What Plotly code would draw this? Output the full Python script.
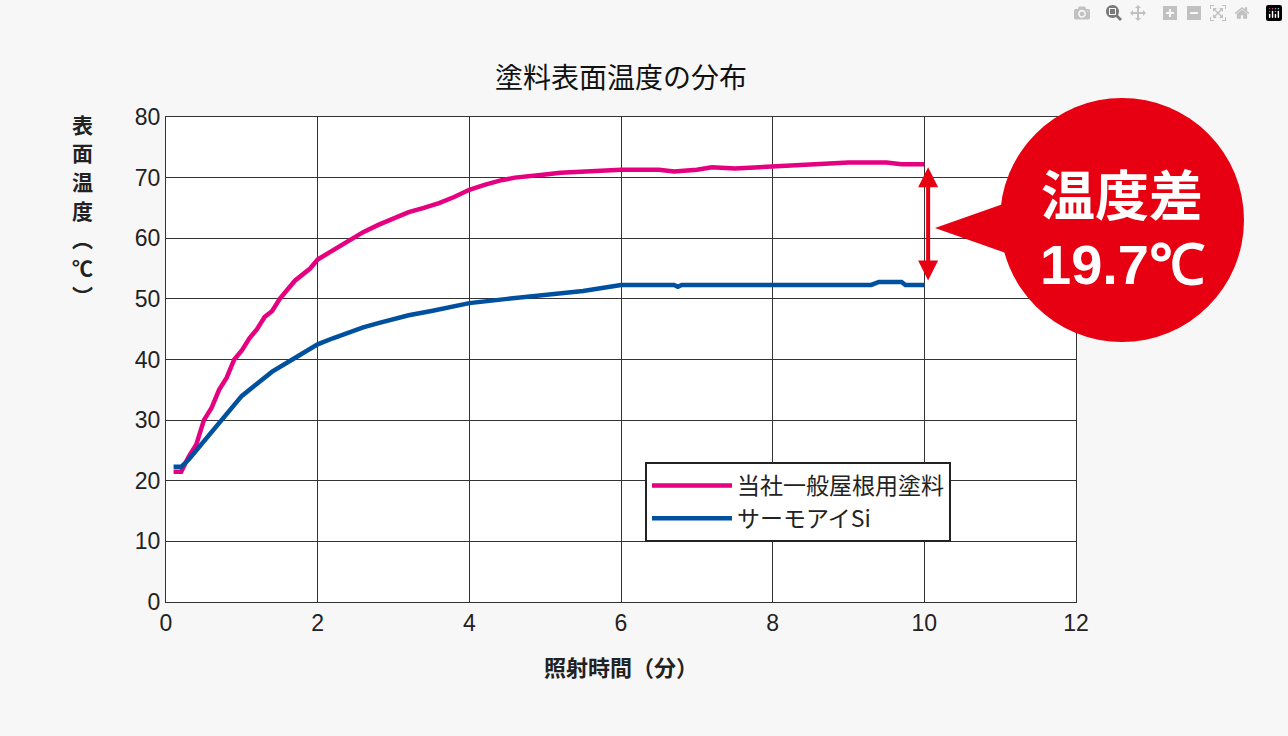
import plotly.graph_objects as go

pink_x = [0.1,0.2,0.3,0.4,0.5,0.6,0.7,0.8,0.9,1.0,1.1,1.2,1.3,1.4,1.5,1.6,1.7,1.8,1.9,2.0,2.2,2.4,2.6,2.8,3.0,3.2,3.4,3.6,3.8,4.0,4.2,4.4,4.6,4.8,5.0,5.2,5.5,6.0,6.5,6.7,7.0,7.2,7.5,8.0,8.5,9.0,9.5,9.7,10.0]
pink_y = [21.5,21.5,24,26,30,32,35,37,40,41.5,43.5,45,47,48,50,51.5,53,54,55,56.5,58,59.5,61,62.2,63.3,64.3,65,65.8,66.8,68,68.8,69.5,70,70.2,70.5,70.8,71,71.3,71.3,71,71.3,71.7,71.5,71.8,72.2,72.5,72.5,72.2,72.2]
blue_x = [0.1,0.2,0.3,0.4,0.5,0.6,0.7,0.8,0.9,1.0,1.2,1.4,1.6,1.8,2.0,2.2,2.4,2.6,2.8,3.0,3.2,3.5,4.0,4.5,5.0,5.5,6.0,6.7,6.75,6.8,9.3,9.4,9.7,9.75,10.0]
blue_y = [22.3,22.3,23.5,25,26.5,28,29.5,31,32.5,34,36,38,39.5,41,42.5,43.5,44.5,45.3,46,46.7,47.3,48,49.3,50,50.6,51.3,52.3,52.3,52,52.3,52.3,52.8,52.8,52.3,52.3]
names = ["当社一般屋根用塗料", "サーモアイSi"]
ytitle_chars = ["表", "面", "温", "度", "︵", "℃", "︶"]

F = "Noto Sans CJK JP"
fig = go.Figure()
fig.add_trace(go.Scatter(x=pink_x, y=pink_y, mode="lines", name=names[0], line=dict(color="#e4007f", width=4.5)))
fig.add_trace(go.Scatter(x=blue_x, y=blue_y, mode="lines", name=names[1], line=dict(color="#0050a0", width=4.5)))

def px(x): return (x-166)/910
def py(y): return (602-y)/485

fig.update_layout(
    width=1288, height=736, paper_bgcolor="#f7f7f7", plot_bgcolor="white",
    margin=dict(l=166, r=212, t=117, b=134),
    font=dict(family=F, size=20, color="#222"),
    xaxis=dict(range=[0,12], dtick=2, showgrid=True, gridcolor="#333", gridwidth=1, showline=True, linecolor="#333", mirror=True, ticks="", zeroline=False, tickfont=dict(size=23, family="Liberation Sans")),
    yaxis=dict(range=[0,80], dtick=10, showgrid=True, gridcolor="#333", gridwidth=1, showline=True, linecolor="#333", mirror=True, ticks="", zeroline=False, tickfont=dict(size=23, family="Liberation Sans")),
    legend=dict(x=px(645), y=py(462), xanchor="left", yanchor="top", bgcolor="white", bordercolor="#222", borderwidth=2, font=dict(size=23), itemwidth=80, tracegroupgap=12),
    showlegend=True,
)
A = dict(xref="paper", yref="paper", showarrow=False, xanchor="center", yanchor="middle")
fig.add_annotation(text="塗料表面温度の分布", x=px(621), y=py(76), font=dict(size=28, color="#111"), **A)
fig.add_annotation(text="<b>照射時間（分）</b>", x=px(621), y=py(666), font=dict(size=22, color="#222"), **A)
for i, ch in enumerate(ytitle_chars):
    fig.add_annotation(text=f"<b>{ch}</b>", x=px(82), y=py(124 + i*28.5), font=dict(size=21), **A)
# callout
fig.add_shape(type="path", xref="paper", yref="paper", path=f"M {px(935)},{py(228)} L {px(1020)},{py(198)} L {px(1020)},{py(258)} Z", fillcolor="#e60012", line=dict(width=0))
fig.add_shape(type="circle", xref="paper", yref="paper", x0=px(1000), x1=px(1244), y0=py(342), y1=py(98), fillcolor="#e60012", line=dict(width=0))
fig.add_annotation(text="<b>温度差</b>", x=px(1122), y=py(192), font=dict(size=54, color="white"), **A)
fig.add_annotation(text="<b>19.7℃</b>", x=px(1122), y=py(264), font=dict(size=56, color="white", family="Liberation Sans"), **A)
fig.add_annotation(x=10.05, y=pink_y[-1]-0.5, ax=10.05, ay=blue_y[-1]+0.5, xref="x", yref="y", axref="x", ayref="y", text="", showarrow=True, arrowhead=2, arrowside="end+start", arrowwidth=4, arrowsize=1, arrowcolor="#e60012")
fig.write_html("out.html", post_script="document.body.style.margin='0';")
